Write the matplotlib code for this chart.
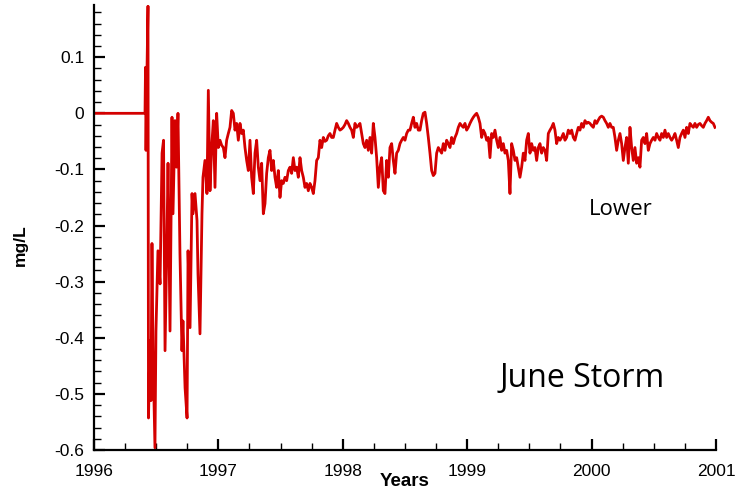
import numpy as np
import matplotlib
matplotlib.use('Agg')
import matplotlib.pyplot as plt
from matplotlib.ticker import MultipleLocator

# early, irregular part of the record (decimal year, mg/L)
yr_early = [1996.000, 1996.410, 1996.414, 1996.418, 1996.426, 1996.434, 1996.438,
            1996.450, 1996.458, 1996.466, 1996.474, 1996.490, 1996.498, 1996.514,
            1996.531, 1996.547, 1996.559, 1996.571, 1996.587, 1996.595, 1996.611,
            1996.627, 1996.635, 1996.651, 1996.663, 1996.675, 1996.691, 1996.707,
            1996.715, 1996.732, 1996.748, 1996.756, 1996.772, 1996.788, 1996.796,
            1996.812, 1996.828, 1996.836, 1996.852, 1996.868, 1996.876, 1996.892,
            1996.908]
do_early = [0.000, 0.000, 0.082, -0.066, 0.077, 0.191, -0.543,
            -0.405, -0.512, -0.232, -0.423, -0.596, -0.388, -0.245,
            -0.304, -0.071, -0.048, -0.423, -0.214, -0.089, -0.388,
            -0.007, -0.179, -0.013, -0.096, 0.000, -0.250, -0.423,
            -0.370, -0.489, -0.543, -0.245, -0.382, -0.143, -0.179,
            -0.143, -0.191, -0.286, -0.393, -0.179, -0.114, -0.084,
            -0.143]

# later record, sampled about every 4.9 days
t_start = 1996.919
t_step = 0.013398
do_late = [
    0.041, -0.138, -0.061, -0.013, -0.132, 0.000, -0.061, -0.048, -0.057, -0.061,
    -0.079, -0.048, -0.036, -0.025, 0.005, 0.000, -0.030, -0.018, -0.048, -0.018,
    -0.036, -0.030, -0.061, -0.084, -0.102, -0.048, -0.114, -0.143, -0.071, -0.048,
    -0.096, -0.120, -0.089, -0.179, -0.161, -0.107, -0.079, -0.066, -0.102, -0.084,
    -0.114, -0.132, -0.102, -0.150, -0.120, -0.125, -0.114, -0.120, -0.102, -0.096,
    -0.107, -0.079, -0.102, -0.096, -0.114, -0.079, -0.102, -0.114, -0.132, -0.125,
    -0.138, -0.125, -0.132, -0.143, -0.120, -0.084, -0.079, -0.048, -0.061, -0.043,
    -0.050, -0.048, -0.040, -0.036, -0.043, -0.043, -0.030, -0.018, -0.025,
    # 1998
    -0.030, -0.028, -0.025, -0.020, -0.013, -0.018, -0.025, -0.030, -0.043, -0.018,
    -0.025, -0.022, -0.018, -0.036, -0.054, -0.061, -0.048, -0.066, -0.043, -0.071,
    -0.018, -0.043, -0.079, -0.132, -0.096, -0.079, -0.138, -0.143, -0.084, -0.114,
    -0.061, -0.054, -0.084, -0.107, -0.071, -0.066, -0.054, -0.048, -0.043, -0.048,
    -0.036, -0.030, -0.030, -0.018, -0.007, -0.025, -0.018, -0.030, -0.030, -0.013,
    0.000, 0.002, -0.018, -0.043, -0.071, -0.102, -0.111, -0.107, -0.071, -0.061,
    -0.066, -0.071, -0.054, -0.066, -0.048, -0.054, -0.061, -0.043, -0.054, -0.043,
    -0.036, -0.025, -0.018, -0.022,
    # 1999
    -0.025, -0.018, -0.030, -0.025, -0.018, -0.012, -0.007, -0.003, 0.000, -0.007,
    -0.018, -0.043, -0.030, -0.036, -0.048, -0.043, -0.079, -0.036, -0.043, -0.030,
    -0.048, -0.061, -0.043, -0.066, -0.054, -0.071, -0.066, -0.084, -0.143, -0.054,
    -0.066, -0.084, -0.079, -0.096, -0.114, -0.096, -0.071, -0.084, -0.048, -0.036,
    -0.071, -0.054, -0.066, -0.061, -0.084, -0.061, -0.054, -0.071, -0.061, -0.066,
    -0.084, -0.036, -0.030, -0.025, -0.018, -0.030, -0.054, -0.043, -0.048, -0.043,
    -0.036, -0.048, -0.043, -0.030, -0.036, -0.030, -0.043, -0.048, -0.036, -0.025,
    -0.030, -0.018, -0.025, -0.013, -0.018, -0.016,
    # 2000
    -0.018, -0.022, -0.025, -0.013, -0.018, -0.012, -0.007, -0.005, -0.007, -0.013,
    -0.018, -0.025, -0.018, -0.025, -0.025, -0.043, -0.066, -0.048, -0.036, -0.054,
    -0.084, -0.061, -0.043, -0.089, -0.025, -0.061, -0.084, -0.061, -0.089, -0.079,
    -0.096, -0.048, -0.043, -0.054, -0.036, -0.066, -0.054, -0.048, -0.043, -0.048,
    -0.036, -0.043, -0.048, -0.036, -0.043, -0.030, -0.043, -0.036, -0.043, -0.048,
    -0.043, -0.036, -0.048, -0.061, -0.043, -0.036, -0.030, -0.043, -0.025, -0.036,
    -0.018, -0.022, -0.025, -0.018, -0.025, -0.020, -0.018, -0.022, -0.025, -0.018,
    -0.013, -0.007, -0.013, -0.016, -0.018, -0.025,
]

yr_late = t_start + t_step * np.arange(len(do_late))
years = np.concatenate([yr_early, yr_late])
do = np.concatenate([do_early, do_late])

plt.rcParams['font.family'] = 'Liberation Sans'
plt.rcParams['font.size'] = 12.5

fig = plt.figure(figsize=(7.35, 4.92), dpi=100)
ax = fig.add_axes([0.1279, 0.0854, 0.8462, 0.9044])

ax.plot(years, do, '-', color='#d40000', lw=2.0)

ax.set_xlim(1996, 2001)
ax.set_ylim(-0.6, 0.193)
ax.xaxis.set_major_locator(MultipleLocator(1))
ax.xaxis.set_minor_locator(MultipleLocator(0.25))
ax.yaxis.set_major_locator(MultipleLocator(0.1))
ax.yaxis.set_minor_locator(MultipleLocator(0.02))
ax.yaxis.set_major_formatter(matplotlib.ticker.FuncFormatter(
    lambda v, p: '0' if abs(v) < 1e-9 else '{:g}'.format(round(v, 2))))

for s in ['top', 'right']:
    ax.spines[s].set_visible(False)
for s in ['left', 'bottom']:
    ax.spines[s].set_linewidth(1.6)

ax.tick_params(which='major', direction='in', length=8, width=1.6, labelsize=12.5, pad=7)
ax.tick_params(which='minor', direction='in', length=5, width=1)
ax.tick_params(axis='x', which='major', pad=10)

ax.set_xlabel('Years', fontsize=13.5, fontweight='bold')
ax.xaxis.set_label_coords(0.5, -0.052)
ax.set_ylabel('mg/L', fontsize=12.5, fontweight='bold')
ax.yaxis.set_label_coords(-0.107, 0.46)

ax.text(0.847, 0.54, 'Lower', transform=ax.transAxes, ha='center', va='center',
        fontsize=16, family='Open Sans')
ax.text(0.785, 0.16, 'June Storm', transform=ax.transAxes, ha='center', va='center',
        fontsize=23, family='Open Sans')

fig.savefig('out.png', dpi=100)
